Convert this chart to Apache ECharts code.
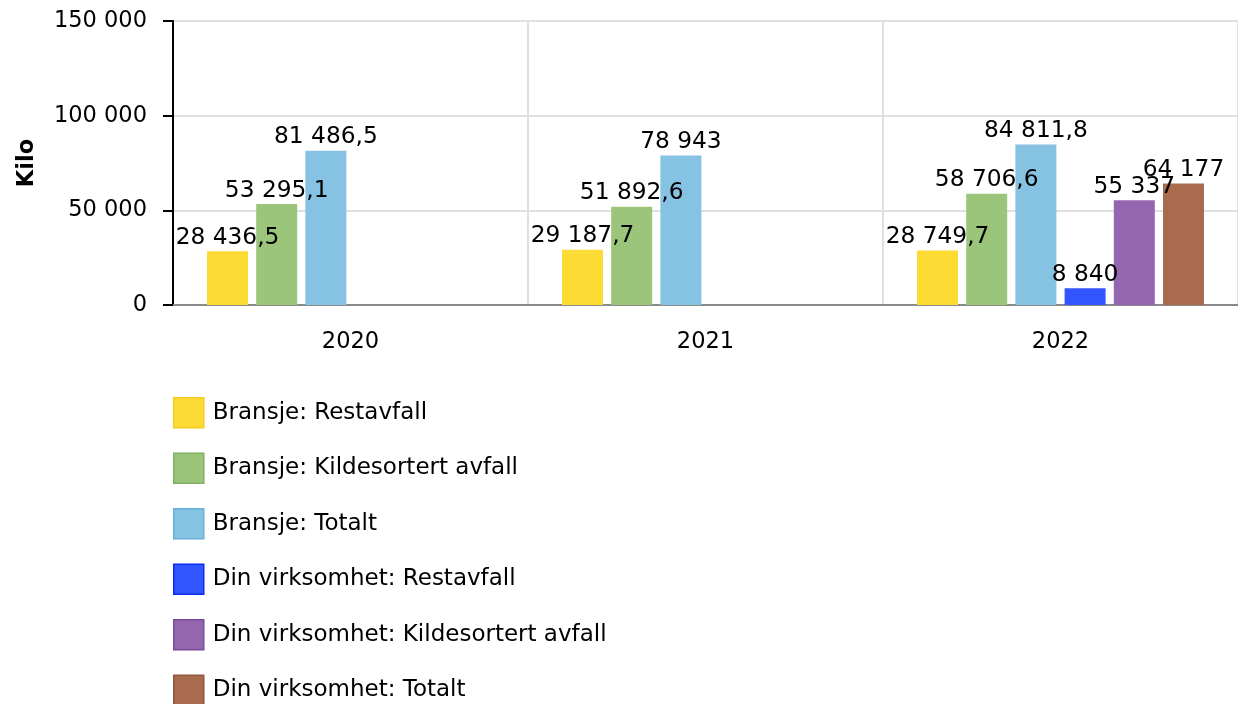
<!DOCTYPE html>
<html>
<head>
<meta charset="utf-8">
<script src="https://cdn.jsdelivr.net/npm/echarts@6/dist/echarts.min.js"></script>
<style>html,body{margin:0;padding:0;background:#fff}#c{width:1238px;height:704px}</style>
</head>
<body>
<div id="c"></div>
<script>
const categories = ['2020', '2021', '2022'];
const seriesNames = ['Bransje: Restavfall', 'Bransje: Kildesortert avfall', 'Bransje: Totalt',
  'Din virksomhet: Restavfall', 'Din virksomhet: Kildesortert avfall', 'Din virksomhet: Totalt'];
const bransjeRestavfall = [28436.5, 29187.7, 28749.7];
const bransjeKildesortert = [53295.1, 51892.6, 58706.6];
const bransjeTotalt = [81486.5, 78943, 84811.8];
const dinRestavfall = [null, null, 8840];
const dinKildesortert = [null, null, 55337];
const dinTotalt = [null, null, 64177];
const yTicks = [0, 50000, 100000, 150000];

const colors = ['#fcdb34', '#9bc57b', '#86c2e2', '#3355ff', '#9466b0', '#a86b4e'];
const borders = ['#f5cc1a', '#7fb062', '#66b0db', '#0a2ef0', '#7a4a9a', '#93553a'];
const values = [bransjeRestavfall, bransjeKildesortert, bransjeTotalt, dinRestavfall, dinKildesortert, dinTotalt];

function fmt(v) {
  const neg = v < 0; v = Math.abs(v);
  let s = String(Math.round(v * 10) / 10);
  let [ip, dp] = s.split('.');
  ip = ip.replace(/\B(?=(\d{3})+(?!\d))/g, ' ');
  return (neg ? '-' : '') + ip + (dp ? ',' + dp : '');
}

const font = 'DejaVu Sans, Verdana, sans-serif';
const fs = 22.5;
const chart = echarts.init(document.getElementById('c'));
chart.setOption({
  animation: false,
  textStyle: { fontFamily: font },
  grid: { left: 173, right: 0, top: 21, bottom: 399, containLabel: false },
  xAxis: {
    type: 'category',
    data: categories,
    axisLine: { lineStyle: { color: '#8a8a8a', width: 2 } },
    axisTick: { alignWithLabel: true, length: 9, lineStyle: { color: '#bbb', width: 2 } },
    axisLabel: { margin: 26, fontSize: fs, color: '#000', fontFamily: font },
    splitLine: { show: true, lineStyle: { color: '#e0e0e0', width: 2 } }
  },
  yAxis: {
    type: 'value',
    min: yTicks[0],
    max: yTicks[yTicks.length - 1],
    interval: yTicks[1] - yTicks[0],
    name: 'Kilo',
    nameLocation: 'middle',
    nameRotate: 90,
    nameGap: 134,
    nameTextStyle: { fontSize: fs, fontWeight: 'bold', color: '#000', fontFamily: font },
    axisLine: { show: true, lineStyle: { color: '#000', width: 2 } },
    axisTick: { show: true, length: 10, lineStyle: { color: '#000', width: 2 } },
    axisLabel: { margin: 26, fontSize: fs, color: '#000', fontFamily: font, formatter: v => fmt(v) },
    splitLine: { lineStyle: { color: '#e0e0e0', width: 2 } }
  },
  legend: {
    orient: 'vertical',
    left: 168,
    top: 392,
    height: 400,
    itemWidth: 30,
    itemHeight: 30,
    itemGap: 24,
    icon: 'rect',
    textStyle: { fontSize: 23, color: '#000', fontFamily: font, padding: [0, 0, 0, 4] },
    data: seriesNames.map((n, i) => ({ name: n, itemStyle: { color: colors[i], borderColor: borders[i], borderWidth: 1.5 } }))
  },
  series: seriesNames.map((n, i) => ({
    name: n,
    type: 'bar',
    data: values[i],
    barWidth: 41,
    barGap: '20%',
    itemStyle: { color: colors[i] },
    label: {
      show: true,
      position: 'top',
      distance: 2,
      fontSize: 23.3,
      color: '#000',
      fontFamily: font,
      formatter: p => p.value == null ? '' : fmt(p.value)
    }
  }))
});
</script>
</body>
</html>
